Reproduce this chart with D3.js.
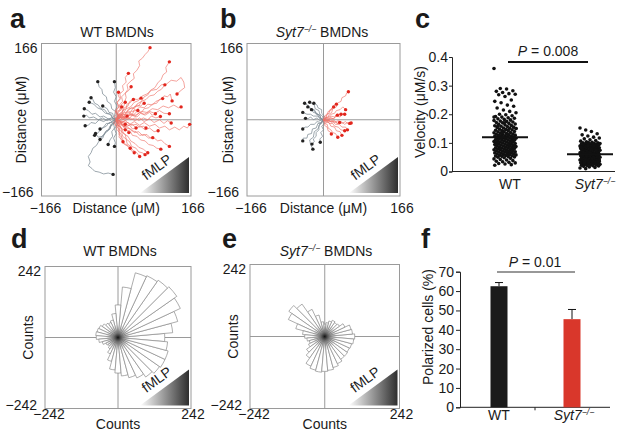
<!DOCTYPE html>
<html><head><meta charset="utf-8">
<script src="https://cdn.jsdelivr.net/npm/d3@7"></script>
<style>body{margin:0;background:#fff}svg{display:block;font-family:"Liberation Sans",Arial,sans-serif}</style>
</head><body><svg id="fig" width="624" height="437"></svg>
<script>
// ---------------- DATA ----------------
const trackDomain = [-166, 166];
const trackTickLabels = ["\u2212166", "166"];
const roseDomain = [-242, 242];
const roseTickLabels = ["\u2212242", "242"];

// panel a: WT tracks (µm), red = toward fMLP, gray = away
const wtRedTracks = [
  [[0,0],[4,8],[2,16],[9,22],[7,32],[14,40],[12,50],[20,58],[26,66],[24,76],[32,84],[40,90],[38,100],[46,108],[52,118],[50,128],[58,134],[64,142],[70,148],[75,157]],
  [[0,0],[8,4],[12,12],[20,10],[26,20],[34,26],[40,24],[46,34],[56,40],[62,50],[70,54],[76,64],[86,70],[92,80],[100,88],[104,98],[112,104],[110,114],[118,126]],
  [[0,0],[3,10],[-2,20],[5,28],[2,38],[10,46],[8,56],[16,64],[14,74],[22,82],[20,92],[27,101]],
  [[0,0],[6,6],[4,16],[12,22],[10,32],[18,38],[22,48],[20,58],[28,64],[33,72]],
  [[0,0],[8,-2],[14,6],[22,4],[30,12],[38,10],[46,18],[56,16],[62,24],[72,26],[80,34],[90,36],[96,44],[103,46]],
  [[0,0],[10,4],[16,12],[26,10],[34,18],[44,20],[52,28],[62,26],[70,34],[80,32],[88,40],[98,44],[106,52],[114,50],[120,56],[124,41]],
  [[0,0],[10,-4],[18,4],[28,2],[36,10],[46,6],[54,14],[64,10],[74,16],[80,10],[87,13]],
  [[0,0],[8,6],[16,2],[24,8],[32,0],[42,4],[50,-2],[60,4],[70,0],[78,8],[88,4],[98,7]],
  [[0,0],[10,-6],[20,-2],[30,-10],[40,-4],[52,-12],[62,-6],[74,-14],[86,-10],[96,-18],[108,-14],[118,-22],[130,-16],[140,-22],[150,-14],[158,-18],[163,-10]],
  [[0,0],[10,4],[20,-2],[30,4],[42,-2],[52,4],[62,-4],[74,2],[84,-6],[96,0],[106,-8],[114,-2],[122,-7]],
  [[0,0],[8,-6],[18,-4],[26,-12],[36,-10],[44,-18],[54,-14],[64,-22],[74,-18],[84,-26],[93,-24]],
  [[0,0],[6,-8],[16,-10],[22,-18],[32,-20],[40,-28],[50,-26],[58,-34],[68,-32],[76,-40],[81,-39]],
  [[0,0],[10,-4],[16,-14],[26,-16],[34,-24],[44,-26],[52,-34],[62,-32],[72,-40],[82,-38],[92,-46],[100,-44],[108,-52],[118,-58]],
  [[0,0],[6,-10],[14,-12],[20,-22],[30,-24],[36,-34],[46,-36],[54,-44],[64,-46],[72,-54],[82,-56],[90,-62],[99,-64]],
  [[0,0],[2,-10],[10,-16],[12,-26],[20,-32],[22,-42],[30,-48],[34,-58],[44,-62],[50,-70],[58,-72],[64,-76]],
  [[0,0],[4,-10],[0,-20],[8,-28],[6,-38],[14,-44],[18,-52],[26,-56],[31,-62]],
  [[0,0],[10,6],[20,2],[30,10],[42,8],[52,16],[62,12],[74,18],[86,14],[96,20],[106,14],[118,13]],
  [[0,0],[6,10],[16,14],[22,24],[32,28],[40,38],[50,42],[58,52],[68,56],[78,64],[90,66],[100,76],[112,78],[122,86],[134,84],[144,92],[150,82],[152,70],[144,64],[135,56]],
  [[0,0],[4,8],[12,10],[14,20],[22,24],[24,34],[32,38],[38,46],[46,44],[55,47]],
  [[0,0],[6,4],[4,10],[12,12],[16,6],[24,8]],
  [[0,0],[4,-6],[10,-4],[12,-12],[18,-16],[20,-10]],
  [[0,0],[-4,6],[0,12],[-2,18],[6,20],[12,28]],
  [[0,0],[8,-2],[12,-10],[18,-14],[22,-22],[28,-28]],
  [[0,0],[6,6],[8,14],[14,18],[16,28],[20,38]],
  [[0,0],[2,-10],[8,-16],[6,-26],[12,-34],[10,-42],[15,-48]],
  [[0,0],[8,6],[14,14],[22,16],[28,24],[38,26],[46,32],[54,30],[62,36]],
  [[0,0],[10,-2],[16,-8],[26,-6],[34,-12],[44,-10],[52,-16],[60,-14],[66,-18]],
  [[0,0],[4,10],[0,20],[6,28],[2,38],[8,46],[4,54],[5,60]],
  [[0,0],[8,8],[16,6],[22,16],[32,18],[40,28],[50,30],[56,40],[66,44],[74,52],[84,54],[92,62],[100,66],[108,76]],
  [[0,0],[6,-10],[4,-20],[12,-26],[14,-36],[22,-42],[24,-52],[32,-58],[36,-66],[44,-70],[52,-80]],
  [[0,0],[10,10],[20,6],[28,16],[36,12],[40,22],[48,20]],
  [[0,0],[8,-8],[16,-4],[22,-14],[30,-12],[36,-20],[44,-18]],
  [[0,0],[-6,-6],[0,-14],[8,-12],[12,-20],[20,-22]],
  [[0,0],[6,12],[14,16],[18,26],[26,30],[30,40],[38,44]],
  [[0,0],[4,-12],[12,-18],[16,-30],[26,-36],[32,-46],[42,-52],[50,-60],[60,-64],[70,-72]],
  [[0,0],[-2,-12],[6,-20],[6,-32],[14,-40],[16,-52],[26,-58],[32,-66],[40,-72]],
  [[0,0],[10,6],[22,4],[32,12],[44,10],[56,18],[68,16],[80,24],[92,22],[104,30],[116,26],[128,32],[138,26],[144,28]]
];
const wtGrayTracks = [
  [[0,0],[-4,8],[-2,18],[-10,24],[-12,34],[-20,40],[-22,50],[-30,56],[-32,66],[-38,72],[-41,83]],
  [[0,0],[4,10],[-2,20],[2,30],[-4,40],[0,50],[-6,60],[-2,70],[-4,83]],
  [[0,0],[-8,4],[-12,12],[-20,14],[-26,22],[-34,24],[-40,32],[-48,36],[-52,44],[-56,48]],
  [[0,0],[-10,4],[-18,2],[-28,8],[-36,6],[-46,14],[-54,12],[-62,20],[-71,24]],
  [[0,0],[-10,-4],[-18,2],[-28,-4],[-38,0],[-46,-8],[-56,-6],[-62,-12],[-69,-13]],
  [[0,0],[-4,-8],[-12,-10],[-14,-20],[-22,-24],[-26,-32],[-32,-36],[-36,-43]],
  [[0,0],[2,-10],[-4,-20],[0,-30],[-6,-40],[-2,-50],[-4,-58]],
  [[0,0],[-6,-8],[-4,-18],[-10,-26],[-8,-36],[-14,-44],[-18,-54]],
  [[0,0],[-6,-10],[-14,-14],[-18,-24],[-26,-30],[-30,-40],[-38,-46],[-44,-56],[-52,-62],[-56,-72],[-62,-80],[-58,-92],[-62,-100],[-54,-106],[-48,-112],[-38,-114],[-28,-118],[-18,-116],[-7,-119]],
  [[0,0],[-10,4],[-20,-2],[-30,4],[-40,0],[-50,6],[-60,4],[-66,10],[-72,8]],
  [[0,0],[-6,6],[-8,14],[-16,16],[-20,24],[-30,30]],
  [[0,0],[-8,-2],[-14,-8],[-22,-8],[-28,-16],[-36,-20]],
  [[0,0],[-8,-6],[-16,-6],[-22,-14],[-30,-18],[-38,-26],[-48,-34]],
  [[0,0],[-8,4],[-14,12],[-24,14],[-32,22],[-42,26],[-50,34],[-60,38]],
  [[0,0],[-10,-10],[-14,-20],[-24,-26],[-30,-36],[-40,-38],[-46,-30]]
];
// panel b: Syt7-/- tracks
const koRedTracks = [
  [[0,0],[4,6],[10,4],[12,12],[18,16],[20,24],[28,28],[30,36],[38,40],[40,48],[48,52],[50,58],[54,61]],
  [[0,0],[6,4],[6,12],[12,14],[14,22],[20,24],[22,30],[28,34]],
  [[0,0],[6,4],[12,2],[16,8],[24,6],[30,12],[38,12]],
  [[0,0],[8,-2],[14,4],[22,2],[28,8],[36,6],[42,14],[46,12]],
  [[0,0],[8,2],[14,-4],[22,-2],[30,-8],[38,-4],[46,-10],[52,-6],[57,-8]],
  [[0,0],[8,-4],[16,0],[24,-6],[32,-2],[40,-8],[48,-4],[54,-10],[60,-7]],
  [[0,0],[6,-4],[12,0],[18,-6],[24,-2],[30,-8],[35,-6]],
  [[0,0],[2,-8],[8,-10],[10,-18],[16,-22],[20,-28],[26,-30],[31,-38]],
  [[0,0],[8,-2],[12,-8],[20,-8],[24,-14],[32,-16],[38,-22],[46,-24]],
  [[0,0],[4,-6],[2,-12],[8,-16],[10,-24],[14,-26],[17,-31]],
  [[0,0],[2,8],[8,10],[10,18],[16,20],[18,26],[22,28]],
  [[0,0],[6,2],[10,-2],[16,4],[22,2],[26,8],[30,10]],
  [[0,0],[6,6],[12,6],[16,12],[24,14],[28,20],[36,22],[42,28],[48,22]],
  [[0,0],[6,-6],[12,-6],[16,-14],[24,-16],[28,-24],[36,-26],[40,-34]],
  [[0,0],[6,2],[12,-4],[20,-4],[26,-10],[34,-10],[40,-16],[48,-16],[52,-22]]
];
const koGrayTracks = [
  [[0,0],[-6,4],[-8,10],[-16,14],[-20,22],[-28,24],[-32,30],[-41,36]],
  [[0,0],[-2,8],[-8,12],[-10,20],[-18,24],[-20,32],[-30,38]],
  [[0,0],[2,8],[-4,14],[-4,22],[-12,26],[-14,32],[-21,36]],
  [[0,0],[-8,2],[-12,8],[-22,8],[-28,12],[-36,12],[-45,16]],
  [[0,0],[-8,-2],[-14,4],[-22,0],[-28,6],[-34,2],[-39,3]],
  [[0,0],[-6,-6],[-14,-4],[-20,-10],[-28,-10],[-34,-16],[-40,-16],[-45,-20]],
  [[0,0],[-4,-8],[-10,-12],[-10,-22],[-16,-28],[-16,-36],[-22,-42],[-20,-48],[-25,-53]],
  [[0,0],[2,-8],[-4,-14],[0,-22],[-6,-28],[-2,-36],[-8,-42],[-7,-49]],
  [[0,0],[-6,-8],[-12,-8],[-16,-18],[-24,-20],[-26,-30],[-34,-32],[-36,-40],[-44,-40],[-45,-46]],
  [[0,0],[-6,2],[-8,10],[-16,12],[-18,18],[-26,22]],
  [[0,0],[-8,-10],[-12,-20],[-20,-26],[-22,-38],[-30,-44],[-28,-54],[-24,-62],[-23,-64]],
  [[0,0],[-10,6],[-14,14],[-22,16],[-28,24],[-34,28]]
];

// panels d, e: rose histograms (bin centre angle, degrees CCW from +x) and counts
const roseAngles = [0,10,20,30,40,50,60,70,80,90,100,110,120,130,140,150,160,170,180,190,200,210,220,230,240,250,260,270,280,290,300,310,320,330,340,350];
const wtRoseCounts = [155,182,205,228,238,232,226,222,168,108,80,60,55,58,64,70,72,74,72,64,54,44,40,46,60,82,108,118,128,138,148,160,168,172,172,165];
const koRoseCounts = [97,90,88,72,58,55,58,52,45,40,48,72,97,128,142,130,97,72,65,58,52,58,72,85,106,113,116,113,110,104,97,90,90,88,90,94];

// panel c: velocity (µM/s)
const velocityCategories = ["WT", "Syt7"];
const velocityTicks = [0, 0.1, 0.2, 0.3, 0.4];
const wtVelocity = [0.36,0.29,0.288,0.282,0.28,0.276,0.272,0.27,0.268,0.262,0.25,0.245,0.24,0.232,0.228,0.222,0.215,0.21,0.205,0.2,0.198,0.195,0.192,0.19,0.188,0.186,0.184,0.182,0.18,0.178,0.176,0.175,0.173,0.171,0.17,0.168,0.166,0.165,0.163,0.161,0.16,0.158,0.157,0.155,0.154,0.152,0.151,0.15,0.148,0.147,0.146,0.144,0.143,0.142,0.14,0.139,0.138,0.136,0.135,0.134,0.133,0.131,0.13,0.129,0.128,0.127,0.126,0.125,0.124,0.123,0.122,0.121,0.12,0.119,0.118,0.117,0.116,0.115,0.114,0.113,0.112,0.111,0.11,0.109,0.108,0.107,0.106,0.105,0.104,0.103,0.102,0.101,0.1,0.099,0.098,0.097,0.096,0.095,0.094,0.093,0.092,0.091,0.09,0.089,0.088,0.087,0.086,0.085,0.084,0.083,0.082,0.081,0.08,0.079,0.078,0.077,0.076,0.075,0.074,0.073,0.072,0.071,0.07,0.069,0.068,0.067,0.066,0.065,0.064,0.063,0.062,0.061,0.06,0.059,0.058,0.057,0.056,0.055,0.054,0.053,0.052,0.051,0.05,0.048,0.046,0.044,0.042,0.04,0.038,0.036,0.034,0.032,0.03,0.028,0.026,0.024,0.022,0.12,0.13,0.11,0.1,0.14,0.09,0.15,0.125,0.115,0.105,0.095,0.135,0.145,0.085,0.16,0.17,0.18,0.19,0.08,0.07];
const koVelocity = [0.152,0.145,0.14,0.132,0.128,0.124,0.12,0.117,0.114,0.111,0.108,0.106,0.104,0.102,0.1,0.1,0.099,0.098,0.098,0.097,0.096,0.095,0.095,0.094,0.093,0.092,0.091,0.09,0.09,0.089,0.088,0.087,0.086,0.085,0.085,0.084,0.083,0.082,0.081,0.08,0.08,0.079,0.078,0.077,0.076,0.075,0.075,0.074,0.073,0.072,0.071,0.07,0.07,0.069,0.068,0.067,0.066,0.065,0.065,0.064,0.063,0.062,0.061,0.06,0.06,0.059,0.058,0.057,0.056,0.055,0.055,0.054,0.053,0.052,0.051,0.05,0.05,0.049,0.048,0.047,0.046,0.045,0.045,0.044,0.043,0.042,0.041,0.04,0.04,0.039,0.038,0.037,0.036,0.035,0.035,0.034,0.033,0.032,0.031,0.03,0.03,0.029,0.028,0.027,0.026,0.025,0.025,0.024,0.023,0.022,0.021,0.02,0.019,0.018,0.016,0.014,0.012,0.01,0.06,0.07,0.08,0.09,0.05,0.04,0.03,0.065,0.075,0.085,0.055,0.045,0.035,0.095,0.1,0.09];
const velocityMeans = [0.12, 0.06];
const velocityP = "0.008";

// panel f: polarized cells (%)
const polarCategories = ["WT", "Syt7"];
const polarValues = [62.5, 45.5];
const polarErrors = [1.9, 5.0];
const polarTicks = [0, 10, 20, 30, 40, 50, 60, 70];
const polarP = "0.01";

// ---------------- DRAW ----------------
const svg = d3.select("#fig");
const defs = svg.append("defs");
const TXT = "#1a1a1a";
const BOX = "#9a9a9a";

const grad = defs.append("linearGradient").attr("id", "fmlpGrad").attr("x1", "0%").attr("x2", "100%").attr("y1", "0%").attr("y2", "0%");
grad.append("stop").attr("offset", "0%").attr("stop-color", "#ffffff");
grad.append("stop").attr("offset", "100%").attr("stop-color", "#2e2e2e");
const rg = defs.append("radialGradient").attr("id", "roseCenter");
rg.append("stop").attr("offset", "0%").attr("stop-color", "#111").attr("stop-opacity", 1);
rg.append("stop").attr("offset", "35%").attr("stop-color", "#555").attr("stop-opacity", 0.6);
rg.append("stop").attr("offset", "100%").attr("stop-color", "#999").attr("stop-opacity", 0);

function panelLetter(x, y, t) {
  svg.append("text").attr("x", x).attr("y", y).attr("font-size", 27).attr("font-weight", "bold").attr("fill", TXT).text(t);
}
function syt7Label(sel, size, suffix) {
  sel.append("tspan").attr("font-style", "italic").text("Syt7");
  sel.append("tspan").attr("font-style", "italic").attr("font-size", size * 0.62).attr("dy", -size * 0.38).text("\u2212/\u2212");
  if (suffix) sel.append("tspan").attr("dy", size * 0.38).text(suffix);
}
function title(cx, y, isKO) {
  const t = svg.append("text").attr("x", cx).attr("y", y).attr("text-anchor", "middle").attr("font-size", 14).attr("fill", TXT);
  if (isKO) syt7Label(t, 14, " BMDNs"); else t.text("WT BMDNs");
}
function fmlp(box) {
  const g = svg.append("g");
  const x0 = box.right - 51, x1 = box.right - 2, yb = box.bottom - 3, yt = yb - 36;
  g.append("path").attr("d", `M${x0},${yb}L${x1},${yb}L${x1},${yt}Z`).attr("fill", "url(#fmlpGrad)");
  const ang = Math.atan2(yb - yt, x1 - x0) * 180 / Math.PI;
  const mx = (x0 + x1) / 2 - 5, my = (yb + yt) / 2 - 4;
  g.append("text").attr("transform", `translate(${mx},${my}) rotate(${-ang})`).attr("text-anchor", "middle")
    .attr("font-size", 14).attr("fill", TXT).text("fMLP");
}
function frame(box, xs, ys, labels, axisName, tickBaseX, nameBaseX, yNameX) {
  const cx = xs(0), cy = ys(0);
  svg.append("rect").attr("x", box.left).attr("y", box.top).attr("width", box.right - box.left).attr("height", box.bottom - box.top)
    .attr("fill", "none").attr("stroke", BOX).attr("stroke-width", 1);
  svg.append("line").attr("x1", cx).attr("x2", cx).attr("y1", box.top).attr("y2", box.bottom).attr("stroke", BOX);
  svg.append("line").attr("x1", box.left).attr("x2", box.right).attr("y1", cy).attr("y2", cy).attr("stroke", BOX);
  svg.append("text").attr("x", box.left - 4).attr("y", box.top + 9).attr("text-anchor", "end").attr("font-size", 14).attr("fill", TXT).text(labels[1]);
  svg.append("text").attr("x", box.left - 8).attr("y", box.bottom + 1).attr("text-anchor", "end").attr("font-size", 14).attr("fill", TXT).text(labels[0]);
  svg.append("text").attr("x", box.left + 4).attr("y", tickBaseX).attr("text-anchor", "middle").attr("font-size", 14).attr("fill", TXT).text(labels[0]);
  svg.append("text").attr("x", box.right + 2).attr("y", tickBaseX).attr("text-anchor", "middle").attr("font-size", 14).attr("fill", TXT).text(labels[1]);
  svg.append("text").attr("x", cx).attr("y", nameBaseX).attr("text-anchor", "middle").attr("font-size", 14).attr("fill", TXT).text(axisName);
  svg.append("text").attr("transform", `translate(${yNameX},${cy}) rotate(-90)`).attr("text-anchor", "middle")
    .attr("font-size", 14).attr("fill", TXT).text(axisName);
}

function trackPanel(box, red, gray, yNameX) {
  const xs = d3.scaleLinear().domain(trackDomain).range([box.left, box.right]);
  const ys = d3.scaleLinear().domain(trackDomain).range([box.bottom, box.top]);
  frame(box, xs, ys, trackTickLabels, "Distance (\u03bcM)", 213, 213, yNameX);
  const line = d3.line().x(d => xs(d[0])).y(d => ys(d[1]));
  const g = svg.append("g");
  g.selectAll(".gt").data(gray).join("path").attr("d", line).attr("fill", "none").attr("stroke", "#7d8b94").attr("stroke-width", 0.75);
  g.selectAll(".rt").data(red).join("path").attr("d", line).attr("fill", "none").attr("stroke", "#ee6f66").attr("stroke-width", 0.75).attr("stroke-opacity", 0.85);
  g.selectAll(".gd").data(gray).join("circle").attr("cx", d => xs(d[d.length - 1][0])).attr("cy", d => ys(d[d.length - 1][1])).attr("r", 1.7).attr("fill", "#222");
  g.selectAll(".rd").data(red).join("circle").attr("cx", d => xs(d[d.length - 1][0])).attr("cy", d => ys(d[d.length - 1][1])).attr("r", 1.7).attr("fill", "#e2261d");
  fmlp(box);
}

function rosePanel(box, counts, yNameX) {
  const xs = d3.scaleLinear().domain(roseDomain).range([box.left, box.right]);
  const ys = d3.scaleLinear().domain(roseDomain).range([box.bottom, box.top]);
  frame(box, xs, ys, roseTickLabels, "Counts", 419, 429, yNameX);
  const rs = d3.scaleLinear().domain([0, 242]).range([0, (box.right - box.left) / 2]);
  const arc = d3.arc().innerRadius(0);
  const g = svg.append("g").attr("transform", `translate(${xs(0)},${ys(0)})`);
  g.selectAll("path").data(roseAngles).join("path")
    .attr("d", (a, i) => arc({ outerRadius: rs(counts[i]), startAngle: (90 - a - 5) * Math.PI / 180, endAngle: (90 - a + 5) * Math.PI / 180 }))
    .attr("fill", "#fff").attr("stroke", "#8a8a8a").attr("stroke-width", 0.7);
  g.append("circle").attr("r", 13).attr("fill", "url(#roseCenter)");
  fmlp(box);
}

panelLetter(10, 28, "a");
title(117, 37, false);
trackPanel({ left: 41.5, right: 191, top: 43.5, bottom: 196 }, wtRedTracks, wtGrayTracks, 25.5);
panelLetter(220, 28, "b");
title(322, 37, true);
trackPanel({ left: 247, right: 400, top: 43.5, bottom: 196 }, koRedTracks, koGrayTracks, 233);
panelLetter(11, 248, "d");
title(120, 256, false);
rosePanel({ left: 45, right: 191, top: 266.5, bottom: 408.5 }, wtRoseCounts, 33);
panelLetter(222, 248, "e");
title(326, 256, true);
rosePanel({ left: 250, right: 399.5, top: 264.5, bottom: 408.5 }, koRoseCounts, 238);

// panel c: velocity scatter
(function () {
  panelLetter(415, 28, "c");
  const left = 452, right = 615, top = 57, bottom = 171.5;
  const y = d3.scaleLinear().domain([0, 0.4]).range([bottom, top]);
  const x = d3.scalePoint().domain(velocityCategories).range([505, 590]);
  const g = svg.append("g");
  g.append("g").attr("transform", `translate(${left},0)`)
    .call(d3.axisLeft(y).tickValues(velocityTicks).tickFormat(d => d === 0 ? "0" : d3.format(".1f")(d)).tickSize(3).tickPadding(1))
    .call(a => { a.select(".domain").attr("stroke", "#222"); a.selectAll("line").attr("stroke", "#222"); a.selectAll("text").attr("font-size", 14).attr("fill", TXT).attr("font-family", "Liberation Sans, Arial, sans-serif"); });
  g.append("line").attr("x1", left).attr("x2", right).attr("y1", bottom).attr("y2", bottom).attr("stroke", "#222");
  const sets = [wtVelocity, koVelocity];
  const widths = [22, 20];
  sets.forEach((vals, k) => {
    const cxp = x(velocityCategories[k]);
    g.selectAll(null).data(vals).join("circle")
      .attr("cx", (d, i) => cxp + (((i * 37) % 29) / 28 - 0.5) * widths[k])
      .attr("cy", d => y(d)).attr("r", 1.8).attr("fill", "#111");
    g.append("line").attr("x1", cxp - 23).attr("x2", cxp + 23).attr("y1", y(velocityMeans[k])).attr("y2", y(velocityMeans[k])).attr("stroke", "#111").attr("stroke-width", 2);
  });
  g.append("line").attr("x1", 508).attr("x2", 588).attr("y1", 62).attr("y2", 62).attr("stroke", "#111").attr("stroke-width", 1.8);
  const pt = g.append("text").attr("x", 548).attr("y", 56).attr("text-anchor", "middle").attr("font-size", 14).attr("fill", TXT);
  pt.append("tspan").attr("font-style", "italic").text("P");
  pt.append("tspan").text(" = " + velocityP);
  g.append("text").attr("x", 510).attr("y", 189).attr("text-anchor", "middle").attr("font-size", 14).attr("fill", TXT).text("WT");
  syt7Label(g.append("text").attr("x", 595).attr("y", 189).attr("text-anchor", "middle").attr("font-size", 14).attr("fill", TXT), 14);
  g.append("text").attr("transform", `translate(425,112) rotate(-90)`).attr("text-anchor", "middle").attr("font-size", 14).attr("fill", TXT).text("Velocity (\u03bcM/s)");
})();

// panel f: polarized cells
(function () {
  panelLetter(421, 248, "f");
  const left = 460, right = 610, top = 271.7, bottom = 407.3;
  const y = d3.scaleLinear().domain([0, 70]).range([bottom, top]);
  const x = d3.scalePoint().domain(polarCategories).range([499, 572]);
  const g = svg.append("g");
  g.append("g").attr("transform", `translate(${left},0)`)
    .call(d3.axisLeft(y).tickValues(polarTicks).tickSize(4).tickPadding(2))
    .call(a => { a.select(".domain").attr("stroke", "#222"); a.selectAll("line").attr("stroke", "#222"); a.selectAll("text").attr("font-size", 14).attr("fill", TXT).attr("font-family", "Liberation Sans, Arial, sans-serif"); });
  g.append("line").attr("x1", left).attr("x2", right).attr("y1", bottom).attr("y2", bottom).attr("stroke", "#222");
  g.append("line").attr("x1", 535).attr("x2", 535).attr("y1", bottom).attr("y2", bottom + 3).attr("stroke", "#222");
  const colors = ["#1b1b1b", "#d9372b"];
  const bw = 17;
  polarCategories.forEach((c, k) => {
    const cxp = x(c);
    g.append("line").attr("x1", cxp).attr("x2", cxp).attr("y1", y(polarValues[k])).attr("y2", y(polarValues[k] + polarErrors[k])).attr("stroke", "#111").attr("stroke-width", 1);
    g.append("line").attr("x1", cxp - 4).attr("x2", cxp + 4).attr("y1", y(polarValues[k] + polarErrors[k])).attr("y2", y(polarValues[k] + polarErrors[k])).attr("stroke", "#111").attr("stroke-width", 1);
    g.append("rect").attr("x", cxp - bw / 2).attr("y", y(polarValues[k])).attr("width", bw).attr("height", bottom - y(polarValues[k])).attr("fill", colors[k]);
  });
  g.append("line").attr("x1", 497).attr("x2", 575).attr("y1", 272).attr("y2", 272).attr("stroke", "#333").attr("stroke-width", 1.2);
  const pt = g.append("text").attr("x", 535).attr("y", 267).attr("text-anchor", "middle").attr("font-size", 14).attr("fill", TXT);
  pt.append("tspan").attr("font-style", "italic").text("P");
  pt.append("tspan").text(" = " + polarP);
  g.append("text").attr("x", x("WT")).attr("y", 420).attr("text-anchor", "middle").attr("font-size", 14).attr("fill", TXT).text("WT");
  syt7Label(g.append("text").attr("x", x("Syt7") + 2).attr("y", 420).attr("text-anchor", "middle").attr("font-size", 14).attr("fill", TXT), 14);
  g.append("text").attr("transform", `translate(433,327) rotate(-90)`).attr("text-anchor", "middle").attr("font-size", 14).attr("fill", TXT).text("Polarized cells (%)");
})();
</script>
</body></html>
